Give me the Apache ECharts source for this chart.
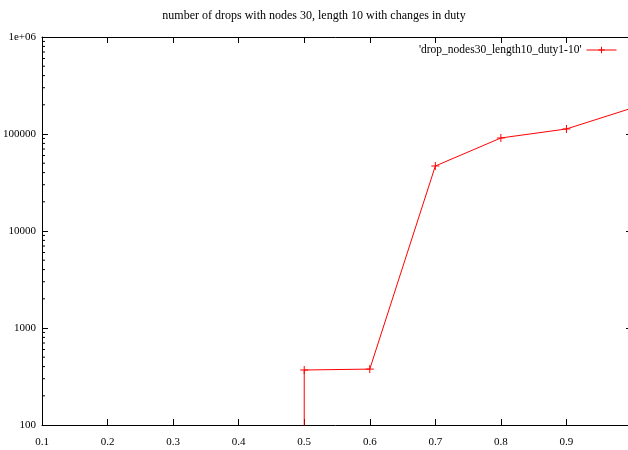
<!DOCTYPE html>
<html><head><meta charset="utf-8">
<script src="https://cdn.jsdelivr.net/npm/echarts@6/dist/echarts.min.js"></script>
<style>html,body{margin:0;padding:0;background:#fff}#c{width:628px;height:450px}</style>
</head><body><div id="c"></div>
<script>
const seriesName = "'drop_nodes30_length10_duty1-10'";
const duty = [0.5, 0.5, 0.6, 0.7, 0.8, 0.9, 1.0];
const drops = [10, 369, 377, 46800, 91000, 112700, 185000];
const yTickLabels = {100: '100', 1000: '1000', 10000: '10000', 100000: '100000', 1000000: '1e+06'};
const minorVals = [];
[100, 1000, 10000, 100000].forEach(d => { for (let k = 2; k <= 9; k++) minorVals.push(d * k); });

const font = 'Liberation Serif';
const chart = echarts.init(document.getElementById('c'), null, {renderer: 'canvas'});
const grid = {left: 42, right: -4, top: 37, bottom: 25, outerBoundsMode: 'none', containLabel: false};
const ax = {color: '#000', width: 1};
chart.setOption({
  animation: false,
  title: {text: 'number of drops with nodes 30, length 10 with changes in duty', left: 'center', top: 5,
    textStyle: {fontFamily: font, fontSize: 12, fontWeight: 'normal', color: '#000'}},
  legend: {right: 6, top: 39, itemWidth: 30, itemHeight: 8, itemGap: 4, align: 'right',
    lineStyle: {width: 1}, itemStyle: {borderWidth: 1},
    textStyle: {fontFamily: font, fontSize: 11.5, color: '#000'},
    data: [{name: seriesName}]},
  grid: grid,
  xAxis: [{type: 'value', min: 0.1, max: 1.0, interval: 0.1,
    axisLine: {lineStyle: ax}, splitLine: {show: false},
    axisTick: {inside: true, length: 6, lineStyle: ax},
    axisLabel: {fontFamily: font, fontSize: 11, color: '#000', margin: 12,
      formatter: v => v >= 0.99 ? '' : v.toFixed(1)}},
    {type: 'value', position: 'top', min: 0.1, max: 1.0, interval: 0.1,
    axisLine: {show: true, lineStyle: ax}, splitLine: {show: false},
    axisTick: {inside: true, length: 6, lineStyle: ax}, axisLabel: {show: false}}],
  yAxis: [{type: 'log', logBase: 10, min: 100, max: 1000000,
    axisLine: {show: true, lineStyle: ax}, splitLine: {show: false},
    axisTick: {inside: true, length: 6, lineStyle: ax},
    axisLabel: {fontFamily: font, fontSize: 11, color: '#000', margin: 6,
      formatter: v => yTickLabels[Math.round(v)] || ''}},
    {type: 'log', logBase: 10, min: 100, max: 1000000, position: 'right',
    axisLine: {show: true, lineStyle: ax}, splitLine: {show: false},
    axisTick: {inside: true, length: 6, lineStyle: ax}, axisLabel: {show: false}}],
  series: [{
    name: seriesName, type: 'line', clip: true,
    data: duty.map((d, i) => [d, drops[i]]),
    symbol: 'path://M0,5L10,5M5,0L5,10', symbolSize: 8, showSymbol: true,
    itemStyle: {color: '#ff0000', borderWidth: 1, borderColor: '#ff0000'},
    lineStyle: {color: '#ff0000', width: 1}
  }, {
    type: 'custom', coordinateSystem: 'cartesian2d', silent: true, clip: false,
    data: minorVals.map(v => [0.1, v]),
    renderItem: (params, api) => {
      const p = api.coord([0.1, api.value(1)]);
      const r = api.coord([1.0, api.value(1)]);
      return {type: 'group', children: [
        {type: 'line', shape: {x1: p[0], y1: p[1], x2: p[0] + 3, y2: p[1]}, style: {stroke: '#000', lineWidth: 1}},
        {type: 'line', shape: {x1: r[0], y1: r[1], x2: r[0] - 3, y2: r[1]}, style: {stroke: '#000', lineWidth: 1}}
      ]};
    }
  }]
});
</script></body></html>
